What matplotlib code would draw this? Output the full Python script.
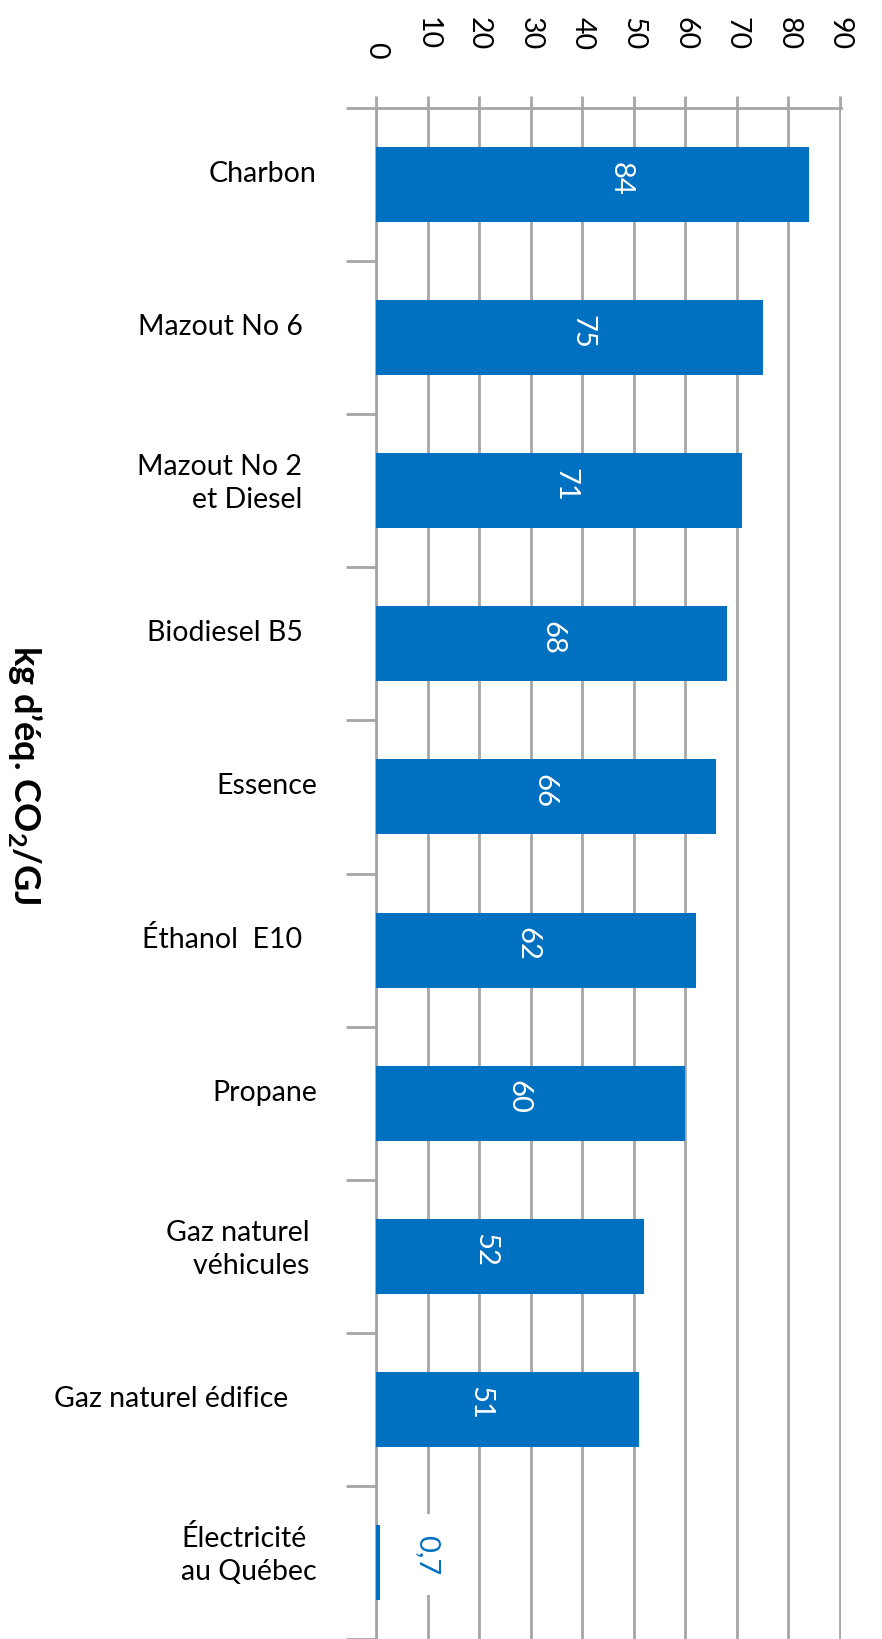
import numpy as np
import matplotlib.pyplot as plt
from matplotlib.transforms import ScaledTranslation

plt.rcParams['font.family'] = ['Lato', 'DejaVu Sans']
plt.rcParams['mathtext.fontset'] = 'custom'
plt.rcParams['mathtext.rm'] = 'Lato'
plt.rcParams['mathtext.bf'] = 'Lato:bold'

# emission factors, kg CO2-eq per GJ
categories = ['Charbon', 'Mazout No 6  ', 'Mazout No 2  \net Diesel  ', 'Biodiesel B5  ',
              'Essence', 'Éthanol  E10  ', 'Propane', 'Gaz naturel \nvéhicules ',
              'Gaz naturel édifice    ', 'Électricité\nau Québec']
values = [84, 75, 71, 68, 66, 62, 60, 52, 51, 0.7]
value_labels = ['84', '75', '71', '68', '66', '62', '60', '52', '51', '0,7']
xticks = list(range(0, 91, 10))

blue = '#0070C0'
grey = '#A6A6A6'

fig = plt.figure(figsize=(8.82, 16.40), dpi=100)
ax = fig.add_axes([376 / 882, 0, (841 - 376) / 882, 1 - 109 / 1640])

pos = np.arange(len(categories))
ax.barh(pos, values, height=0.49, color=blue, zorder=3)
ax.set_xlim(0, 90.2)
ax.set_ylim(len(categories) - 0.5, -0.5)

# value axis on top, labels reading downwards
ax.xaxis.tick_top()
ax.set_xticks(xticks)
ax.set_xticklabels([str(t) for t in xticks], rotation=-90, fontsize=20.5)
ax.tick_params(axis='x', direction='out', length=8.6, width=2, color=grey, pad=34)
ax.grid(axis='x', color=grey, lw=2, zorder=0)
ax.set_axisbelow(True)

# category boundaries get the ticks, the names sit between them
ax.set_yticks(np.arange(-0.5, len(categories), 1))
ax.set_yticklabels([])
ax.set_yticks(pos, minor=True)
ax.set_yticklabels(categories, minor=True, fontsize=20.5, linespacing=1.33)
ax.tick_params(axis='y', which='major', direction='out', length=21.6, width=2, color=grey)
ax.tick_params(axis='y', which='minor', length=0, pad=42.5)

for side in ['right', 'bottom']:
    ax.spines[side].set_visible(False)
for side in ['left', 'top']:
    ax.spines[side].set_color(grey)
    ax.spines[side].set_linewidth(2)

for lab in ax.yaxis.get_minor_ticks():
    lab.label1.set_transform(lab.label1.get_transform() + ScaledTranslation(0, 0.14, fig.dpi_scale_trans))
    lab.label1.set_multialignment('right')
ax.yaxis.get_minor_ticks()[-1].label1.set_multialignment('left')

zero = ax.xaxis.get_major_ticks()[0].label2
zero.set_transform(zero.get_transform() + ScaledTranslation(0, -0.085, fig.dpi_scale_trans))

for i, (v, txt) in enumerate(zip(values, value_labels)):
    if v > 10:
        ax.annotate(txt, (0.82 * v - 21.5, i), xytext=(0, 5), textcoords='offset points',
                    rotation=-90, color='white', fontsize=21, ha='center', va='center', zorder=4)
    else:
        ax.annotate(txt, (v, i), xytext=(25, 6), textcoords='offset points',
                    rotation=-90, color=blue, fontsize=21, ha='left', va='center', zorder=4,
                    bbox=dict(boxstyle='square,pad=0.7', fc='white', ec='none'))

fig.text(25 / 882, 1 - 775 / 1640, 'kg d’éq. CO$_\\mathbf{2}$/GJ', rotation=-90,
         ha='center', va='center', fontsize=26, fontweight='bold')

fig.savefig('out.png', dpi=100)
